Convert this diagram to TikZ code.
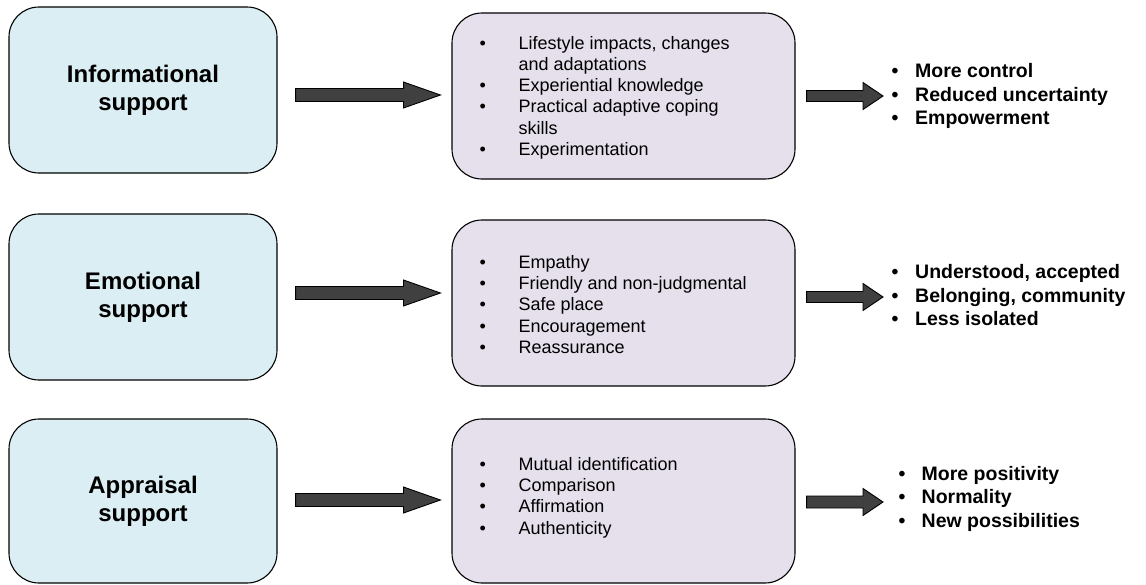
\documentclass[tikz,border=0pt]{standalone}
\usepackage{fontspec}
\setmainfont{Liberation Sans}
\usetikzlibrary{calc}
\definecolor{boxblue}{HTML}{DBEEF3}
\definecolor{boxlilac}{HTML}{E5E0EC}
\definecolor{arrowgray}{HTML}{404040}
\tikzset{
  lbox/.style={draw=black, line width=1.1pt, fill=boxblue, rounded corners=30pt,
    minimum width=268pt, minimum height=166pt, align=center,
    font=\fontsize{24}{28}\selectfont\bfseries, inner sep=0pt},
  mbox/.style={draw=black, line width=1.1pt, fill=boxlilac, rounded corners=30pt,
    minimum width=343pt, minimum height=166pt, inner sep=0pt},
  mtext/.style={anchor=west, inner sep=0pt, font=\fontsize{18}{21.3}\selectfont},
  rtext/.style={anchor=west, inner sep=0pt, font=\fontsize{19.5}{23.5}\selectfont\bfseries},
  fatarrowstyle/.style={draw=black, line width=0.9pt, fill=arrowgray, line join=miter},
}
% #1 start coordinate, #2 end coordinate, #3 shaft half width, #4 head half width, #5 head length
\newcommand\fatarrow[5]{%
  \draw[fatarrowstyle] let \p1=(#1), \p2=(#2) in
    (\x1,\y1-#3pt) -- (\x2-#5pt,\y1-#3pt) -- (\x2-#5pt,\y1-#4pt) -- (\x2,\y1)
    -- (\x2-#5pt,\y1+#4pt) -- (\x2-#5pt,\y1+#3pt) -- (\x1,\y1+#3pt) -- cycle;}
\begin{document}
\begin{tikzpicture}[x=1pt,y=-1pt]
\useasboundingbox (0,0) rectangle (1146,584);

% Row 1
\node[lbox] (L1) at (143,90) {Informational\\support};
\node[mbox] (M1) at (623.5,96) {};
\node[mtext] (T1) at ($(M1.west)+(28,2)$) {\begin{tabular}{@{}p{39pt}@{}l@{}}
•&Lifestyle impacts, changes\\
&and adaptations\\
•&Experiential knowledge\\
•&Practical adaptive coping\\
&skills\\
•&Experimentation
\end{tabular}};
\node[rtext] (R1) at (891.5,96.5) {\begin{tabular}{@{}p{23.5pt}@{}l@{}}
•&More control\\
•&Reduced uncertainty\\
•&Empowerment
\end{tabular}};
\path ($(L1.east)+(18,5)$) coordinate (A1s);
\path (A1s -| M1.west) ++(-11,0) coordinate (A1e);
\fatarrow{A1s}{A1e}{6.5}{13}{37}
\path ($(M1.east)+(11,0)$) coordinate (B1s);
\path (B1s -| R1.west) ++(-8.5,0) coordinate (B1e);
\fatarrow{B1s}{B1e}{5.5}{13.5}{20}

% Row 2
\node[lbox] (L2) at (143,297) {Emotional\\support};
\node[mbox] (M2) at (623.5,303) {};
\node[mtext] (T2) at ($(M2.west)+(28,3.5)$) {\begin{tabular}{@{}p{39pt}@{}l@{}}
•&Empathy\\
•&Friendly and non-judgmental\\
•&Safe place\\
•&Encouragement\\
•&Reassurance
\end{tabular}};
\node[rtext] (R2) at (891.5,297.5) {\begin{tabular}{@{}p{23.5pt}@{}l@{}}
•&Understood, accepted\\
•&Belonging, community\\
•&Less isolated
\end{tabular}};
\path ($(L2.east)+(18,-4)$) coordinate (A2s);
\path (A2s -| M2.west) ++(-11,0) coordinate (A2e);
\fatarrow{A2s}{A2e}{6.5}{13}{37}
\path ($(M2.east)+(11,-6)$) coordinate (B2s);
\path (B2s -| R2.west) ++(-8.5,0) coordinate (B2e);
\fatarrow{B2s}{B2e}{5.5}{13.5}{20}

% Row 3
\node[lbox, minimum height=164pt] (L3) at (143,501) {Appraisal\\support};
\node[mbox, minimum height=164pt] (M3) at (623.5,501) {};
\node[mtext] (T3) at ($(M3.west)+(28,-3)$) {\begin{tabular}{@{}p{39pt}@{}l@{}}
•&Mutual identification\\
•&Comparison\\
•&Affirmation\\
•&Authenticity
\end{tabular}};
\node[rtext] (R3) at (898.5,499) {\begin{tabular}{@{}p{23pt}@{}l@{}}
•&More positivity\\
•&Normality\\
•&New possibilities
\end{tabular}};
\path ($(L3.east)+(18,-1)$) coordinate (A3s);
\path (A3s -| M3.west) ++(-11,0) coordinate (A3e);
\fatarrow{A3s}{A3e}{6.5}{13}{37}
\path ($(M3.east)+(11,1)$) coordinate (B3s);
\path (B3s -| R3.west) ++(-15.5,0) coordinate (B3e);
\fatarrow{B3s}{B3e}{6}{13.5}{20}
\end{tikzpicture}
\end{document}
